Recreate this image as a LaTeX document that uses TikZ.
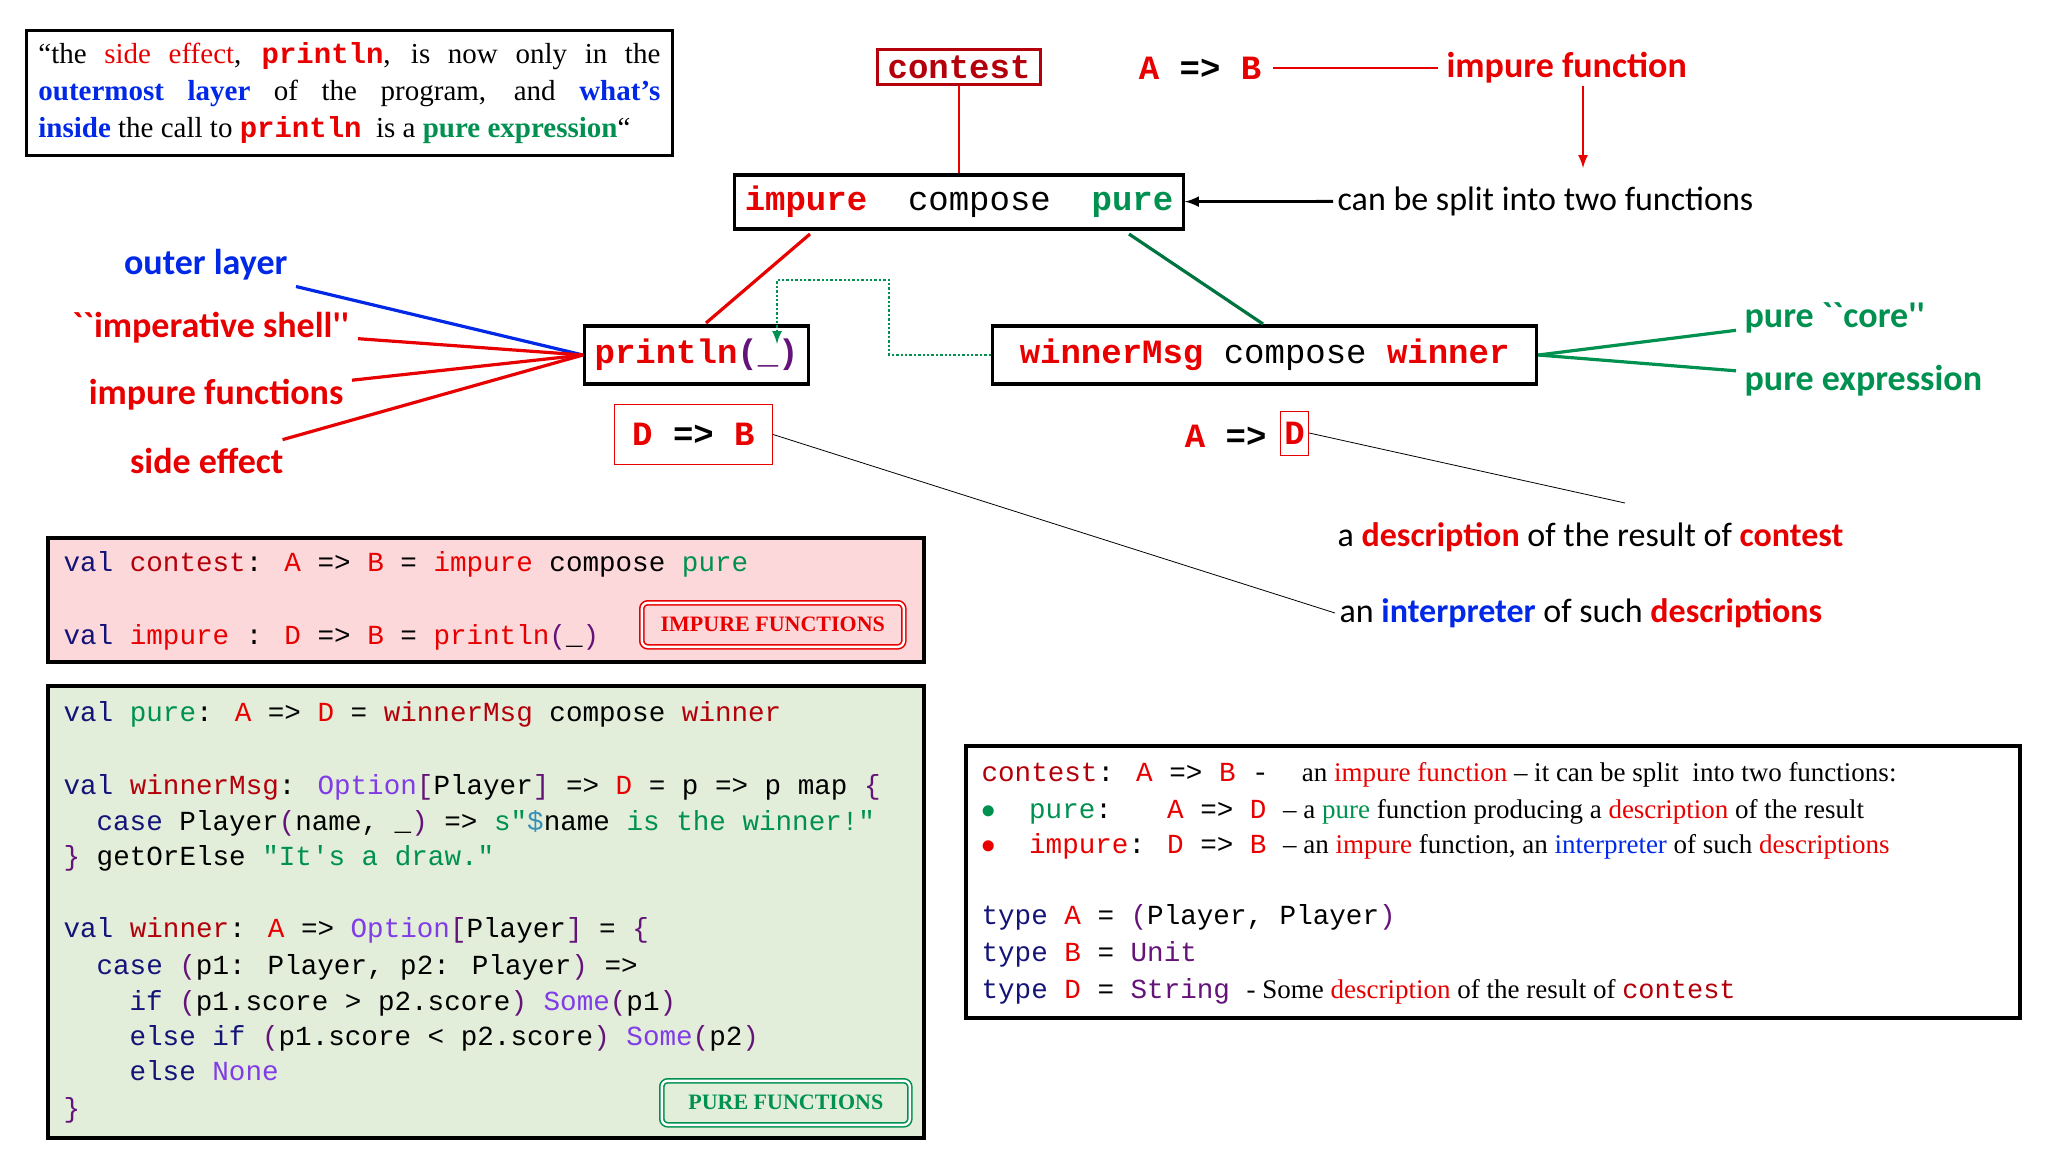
\documentclass[tikz,border=0pt]{standalone}
\usepackage{fontspec}
\setmainfont{Liberation Serif}
\newfontfamily\lab{Carlito}
\newfontfamily\cod{Liberation Mono}
\usetikzlibrary{positioning}
\definecolor{myred}{RGB}{232,0,0}
\definecolor{dred}{RGB}{180,0,10}
\definecolor{mygreen}{RGB}{0,145,80}
\definecolor{myblue}{RGB}{0,40,230}
\definecolor{navy}{RGB}{20,20,120}
\definecolor{purp}{RGB}{128,60,230}
\definecolor{dpurp}{RGB}{100,20,120}
\definecolor{pinkbg}{RGB}{253,216,218}
\definecolor{greenbg}{RGB}{226,237,218}
\newcommand{\rd}[1]{\textcolor{myred}{#1}}
\newcommand{\dr}[1]{\textcolor{dred}{#1}}
\newcommand{\gr}[1]{\textcolor{mygreen}{#1}}
\newcommand{\bl}[1]{\textcolor{myblue}{#1}}
\newcommand{\kw}[1]{\textcolor{navy}{#1}}
\newcommand{\pp}[1]{\textcolor{purp}{#1}}
\newcommand{\dpu}[1]{\textcolor{dpurp}{#1}}

\begin{document}
\begin{tikzpicture}[x=0.5pt,y=-0.5pt,semithick,>=latex,
  box/.style={draw,line width=1.6pt,inner xsep=5pt,inner ysep=3pt,font=\cod\fontsize{17}{20}\selectfont\bfseries},
  lbl/.style={font=\lab\fontsize{18}{22}\selectfont\bfseries,inner sep=4pt},
  note/.style={font=\lab\fontsize{17}{20}\selectfont,inner sep=2pt},
  code/.style={anchor=base west,inner sep=0pt,font=\cod\fontsize{13.8}{16}\selectfont},
  stamp/.style={draw,double,double distance=1.2pt,rounded corners=3pt,line width=0.8pt,font=\bfseries\fontsize{11}{13}\selectfont}]
\useasboundingbox (0,0) rectangle (2048,1152);

% quote
\node[draw,line width=1.4pt,anchor=north west,text width=311pt,align=justify,inner sep=6pt,
  font=\fontsize{14.5}{18.5}\selectfont] (quote) at (25,29)
  {``the \rd{side effect}, \rd{\cod\bfseries println}, is now only in the\linebreak
   \bl{\bfseries outermost layer} of the program, and \bl{\bfseries what's}\linebreak
   \bl{\bfseries inside} the call to \rd{\cod\bfseries println} \ is a \gr{\bfseries pure expression}``};

% top of the diagram
\node[box,dred] (contest) at (959,67) {contest};
\node[box,minimum height=27pt] (ipc) at (959,202) {\rd{impure} \ \mdseries compose \ \bfseries\gr{pure}};
\node[box,anchor=west,minimum height=29pt] (println) at (583,355) {\rd{println}\dpu{(\_)}};
\node[box,anchor=west,minimum height=29pt,minimum width=272pt] (wm) at (991,355) {\rd{winnerMsg} \mdseries compose \bfseries\rd{winner}};
\node[box,draw=none,myred] (ab) at (1200,68) {A \textcolor{black}{=>} B};
\node[lbl,myred,anchor=west] (impf) at (1438,68) {impure function};
\node[note,anchor=west] (split) at (1333,201) {can be split into two functions};
\coordinate (splitup) at (1583,168);

\draw[myred,line width=1.4pt] (contest) -- (ipc);
\draw[myred,line width=1.2pt] (ab) -- (impf);
\draw[myred,->,line width=1.2pt] (impf.south -| splitup) ++(0,-6) -- (splitup);
\draw[->,line width=1.4pt] (split) -- (ipc);
\draw[myred,line width=1.6pt] (810,234) -- (706,323);
\draw[mygreen!80!black,line width=1.6pt] (1129,234) -- (1263,324);

% dotted wire
\coordinate (dotA) at (889,355);
\coordinate (dotB) at (889,280);
\coordinate (dotC) at (777,280);
\coordinate (dotD) at (777,344);
\draw[mygreen,densely dotted,line width=1.2pt,->] (wm.west) -- (dotA) -- (dotB) -- (dotC) -- (dotD);

% left labels
\node[lbl,myblue,anchor=east] (outer) at (296,265) {outer layer};
\node[lbl,myred,anchor=east] (shell) at (358,328) {``imperative shell''};
\node[lbl,myred,anchor=east] (impfs) at (352,395) {impure functions};
\node[lbl,myred,anchor=east] (sidef) at (292,461) {side effect};
\draw[myblue,line width=1.6pt] (outer) -- (println.west);
\draw[myred,line width=1.6pt] (shell) -- (println.west);
\draw[myred,line width=1.6pt] (impfs) -- (println.west);
\draw[myred,line width=1.6pt] (sidef) -- (println.west);

% right labels
\node[lbl,mygreen,anchor=west] (core) at (1736,318) {pure ``core''};
\node[lbl,mygreen,anchor=west] (pexp) at (1736,381) {pure expression};
\draw[mygreen,line width=1.6pt] (wm.east) -- (core);
\draw[mygreen,line width=1.6pt] (wm.east) -- (pexp);

% types under the boxes
\node[draw,thin,anchor=north west,minimum width=79pt,minimum height=30pt,font=\cod\fontsize{17}{20}\selectfont\bfseries,myred] (db) at (614,404) {D \textcolor{black}{=>} B};
\node[box,draw=none,myred,anchor=east] (ad) at (1278,436) {A \textcolor{black}{=>}};
\node[draw,thin,anchor=west,inner sep=2pt,minimum height=22pt,font=\cod\fontsize{17}{20}\selectfont\bfseries,myred] (dd) at (1280,433) {D};
\node[note,anchor=west] (desc) at (1333,537) {a \rd{\bfseries description} of the result of \rd{\bfseries contest}};
\node[note,anchor=west] (interp) at (1335,613) {an \bl{\bfseries interpreter} of such \rd{\bfseries descriptions}};
\coordinate (descend) at (1625,503);
\draw[thin] (db.east) -- (interp.west);
\draw[thin] (dd.east) -- (descend);

% impure code
\node[draw,line width=1.8pt,fill=pinkbg,anchor=north west,minimum width=438pt,minimum height=62pt] (pink) at (46,536) {};
\node[code] (c1) at (63,571) {\kw{val} \dr{contest}: \rd{A} => \rd{B} = \rd{impure} compose \gr{pure}};
\node[code] (c2) at (63,644) {\kw{val} \rd{impure} : \rd{D} => \rd{B} = \rd{println}\dpu{(}\_\dpu{)}};
\node[stamp,myred,minimum width=131pt,minimum height=22pt,anchor=north west] (istamp) at (641,602) {IMPURE FUNCTIONS};

% pure code
\node[draw,line width=1.8pt,fill=greenbg,anchor=north west,minimum width=438pt,minimum height=226pt] (green) at (46,684) {};
\node[code] (p1) at (63,721) {\kw{val} \gr{pure}: \rd{A} => \rd{D} = \dr{winnerMsg} compose \dr{winner}};
\node[code] (p2) at (63,794) {\kw{val} \dr{winnerMsg}: \pp{Option}\dpu{[}Player\dpu{]} => \rd{D} = p => p map \dpu{\{}};
\node[code] (p3) at (96,830) {\kw{case} Player\dpu{(}name, \_\dpu{)} => \gr{s"\textcolor{cyan!70!black}{\$}\textcolor{black}{name} is the winner!"}};
\node[code] (p4) at (63,865) {\dpu{\}} getOrElse \gr{"It's a draw."}};
\node[code] (p5) at (63,937) {\kw{val} \dr{winner}: \rd{A} => \pp{Option}\dpu{[}Player\dpu{]} = \dpu{\{}};
\node[code] (p6) at (96,974) {\kw{case} \dpu{(}p1: Player, p2: Player\dpu{)} =>};
\node[code] (p7) at (129,1010) {\kw{if} \dpu{(}p1.score > p2.score\dpu{)} \pp{Some}\dpu{(}p1\dpu{)}};
\node[code] (p8) at (129,1045) {\kw{else if} \dpu{(}p1.score < p2.score\dpu{)} \pp{Some}\dpu{(}p2\dpu{)}};
\node[code] (p9) at (129,1080) {\kw{else} \pp{None}};
\node[code] (p10) at (63,1117) {\dpu{\}}};
\node[stamp,mygreen,minimum width=124pt,minimum height=22pt,anchor=north west] (pstamp) at (661,1080) {PURE FUNCTIONS};

% summary
\node[draw,line width=1.8pt,anchor=north west,minimum width=527pt,minimum height=136pt] (summ) at (964,744) {};
\node[code] (s1) at (981,781) {\dr{contest}: \rd{A} => \rd{B} - \ \rmfamily\fontsize{13.5}{16}\selectfont an \rd{impure function} -- it can be split \ into two functions:};
\node[code] (s2) at (981,818) {\gr{$\bullet$}\phantom{xx}\gr{pure}: \phantom{xx}\rd{A} => \rd{D} \rmfamily\fontsize{13.5}{16}\selectfont -- a \gr{pure} function producing a \rd{description} of the result};
\node[code] (s3) at (981,853) {\rd{$\bullet$}\phantom{xx}\rd{impure}: \rd{D} => \rd{B} \rmfamily\fontsize{13.5}{16}\selectfont -- an \rd{impure} function, an \bl{interpreter} of such \rd{descriptions}};
\node[code] (s4) at (981,924) {\kw{type} \rd{A} = \dpu{(}Player, Player\dpu{)}};
\node[code] (s5) at (981,961) {\kw{type} \rd{B} = \dpu{Unit}};
\node[code] (s6) at (981,998) {\kw{type} \rd{D} = \dpu{String} \rmfamily\fontsize{13.5}{16}\selectfont - Some \rd{description} of the result of \dr{\cod contest}};
\end{tikzpicture}
\end{document}
